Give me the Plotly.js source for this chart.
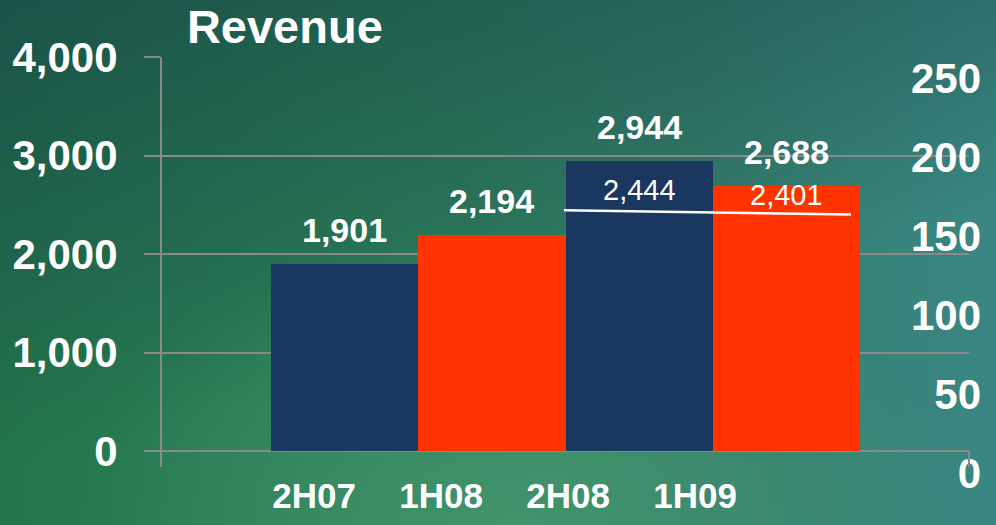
<!DOCTYPE html>
<html>
<head>
<meta charset="utf-8">
<script src="https://cdn.plot.ly/plotly-3.0.1.min.js"></script>
<style>
  html, body { margin:0; padding:0; }
  body {
    width:996px; height:525px; overflow:hidden;
    background:
      radial-gradient(ellipse 45% 55% at 52% 100%, rgba(72,155,112,0.75) 0%, rgba(72,155,112,0) 100%),
      linear-gradient(165deg, rgba(24,72,72,0.75) 0%, rgba(24,72,72,0.35) 35%, rgba(24,72,72,0) 60%),
      linear-gradient(to right, #23764b 0%, #2c7f57 35%, #357f6c 70%, #3a8682 100%);
  }
  #chart { width:996px; height:525px; }
</style>
</head>
<body>
<div id="chart"></div>
<script>
// ---- data ----
const categories = ['2H07', '1H08', '2H08', '1H09'];
const revenue = [1901, 2194, 2944, 2688];
const lineCategories = ['2H08', '1H09'];
const lineValues = [2444, 2401];
const leftTicks = [0, 1000, 2000, 3000, 4000];
const rightTicks = [0, 50, 100, 150, 200, 250];

// ---- styles ----
const NAVY = '#19375f';
const RED = '#ff3300';
const GRID = '#8a8a8a';
const SANS = 'Liberation Sans, Arial, sans-serif';
const fmt = v => v.toLocaleString('en-US');

const barTrace = {
  type: 'bar',
  x: categories,
  y: revenue,
  xaxis: 'x', yaxis: 'y',
  marker: { color: categories.map(c => c.startsWith('2H') ? NAVY : RED), line: { width: 0 } },
  hoverinfo: 'x+y',
  showlegend: false
};

const lineTrace = {
  type: 'scatter',
  mode: 'lines',
  x: lineCategories,
  y: lineValues,
  xaxis: 'x3', yaxis: 'y',
  line: { color: '#ffffff', width: 2.5 },
  showlegend: false,
  hoverinfo: 'y'
};

// transparent carriers so that the category-label axis and the right axis get drawn
const labelAxisCarrier = {
  type: 'scatter', mode: 'markers',
  x: categories.map((c, i) => i), y: categories.map(() => 0),
  xaxis: 'x2', yaxis: 'y',
  marker: { opacity: 0 }, hoverinfo: 'skip', showlegend: false
};
const rightAxisCarrier = {
  type: 'scatter', mode: 'markers',
  x: rightTicks.map(() => categories[0]), y: rightTicks,
  xaxis: 'x', yaxis: 'y2',
  marker: { opacity: 0 }, hoverinfo: 'skip', showlegend: false
};

const annotations = [];
categories.forEach((c, i) => {
  annotations.push({
    x: c, y: revenue[i], xref: 'x', yref: 'y',
    text: fmt(revenue[i]), showarrow: false,
    yanchor: 'middle', yshift: 34,
    font: { family: SANS, size: 34, color: '#ffffff', weight: 'bold' }
  });
});
lineCategories.forEach((c, i) => {
  annotations.push({
    x: c, y: lineValues[i], xref: 'x', yref: 'y',
    text: fmt(lineValues[i]), showarrow: false,
    yanchor: 'middle', yshift: 20,
    font: { family: SANS, size: 29, color: '#ffffff' }
  });
});

const layout = {
  width: 996, height: 525,
  margin: { l: 162, r: 13, t: 30, b: 25, pad: 0 },
  paper_bgcolor: 'rgba(0,0,0,0)',
  plot_bgcolor: 'rgba(0,0,0,0)',
  bargap: 0,
  showlegend: false,
  title: {
    text: '<b>Revenue</b>',
    x: 0.286, xanchor: 'center', xref: 'container',
    y: 0.949, yanchor: 'middle', yref: 'container',
    font: { family: SANS, size: 47, color: '#ffffff' }
  },
  xaxis: {
    type: 'category', domain: [0, 0.98295],
    range: [-1.2415, 4.2415],
    visible: false, fixedrange: true
  },
  xaxis2: {
    overlaying: 'x', anchor: 'y', type: 'linear',
    range: [-1.19685, 5.1575],
    tickmode: 'array',
    tickvals: categories.map((c, i) => i),
    ticktext: categories,
    showgrid: false, zeroline: false, showline: false, ticks: '',
    ticklabelstandoff: 5,
    tickfont: { family: SANS, size: 35, color: '#ffffff', weight: 'bold' }
  },
  xaxis3: {
    overlaying: 'x', anchor: 'y', type: 'category',
    categoryorder: 'array', categoryarray: categories,
    range: [0.5993, 3.4111],
    visible: false
  },
  yaxis: {
    domain: [0.070213, 0.942553],
    range: [-162.4, 4000],
    tickmode: 'array', tickvals: leftTicks,
    tickformat: ',d',
    showgrid: true, gridcolor: GRID, gridwidth: 2,
    zeroline: false,
    showline: true, linecolor: GRID, linewidth: 2,
    ticks: 'outside', ticklen: 16, tickcolor: GRID, tickwidth: 2,
    ticklabelstandoff: 18,
    tickfont: { family: SANS, size: 42, color: '#ffffff', weight: 'bold' }
  },
  yaxis2: {
    anchor: 'free', position: 1, side: 'left',
    domain: [0, 1],
    range: [-17.09, 280.38],
    tickmode: 'array', tickvals: rightTicks,
    showgrid: false, zeroline: false, showline: false, ticks: '',
    ticklabelstandoff: 2,
    tickfont: { family: SANS, size: 42, color: '#ffffff', weight: 'bold' }
  },
  shapes: [{
    type: 'line', xref: 'x domain', yref: 'y',
    x0: 1, x1: 1, y0: -162.4, y1: 0,
    line: { color: GRID, width: 2 }
  }],
  annotations: annotations
};

Plotly.newPlot('chart', [barTrace, lineTrace, labelAxisCarrier, rightAxisCarrier], layout, { staticPlot: true, displayModeBar: false });
</script>
</body>
</html>
